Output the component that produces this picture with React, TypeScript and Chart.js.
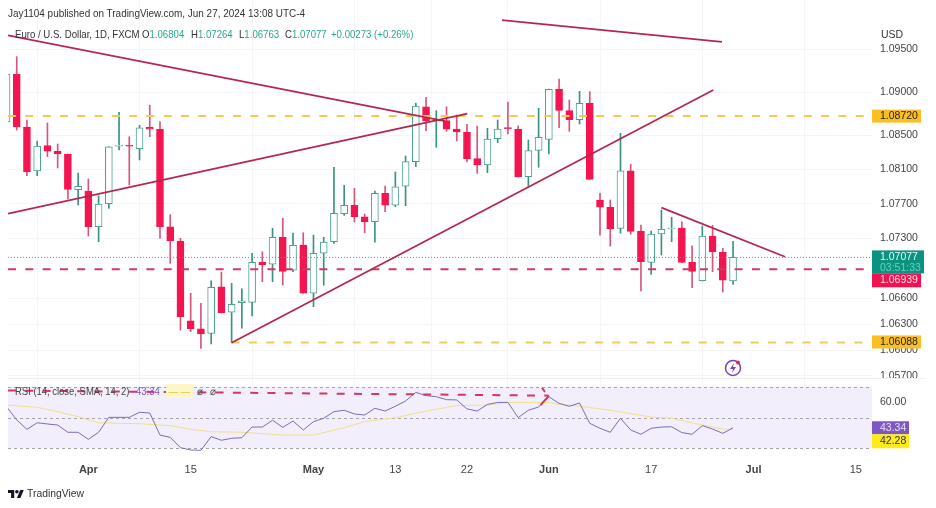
import React, { useEffect, useRef } from "react";
import { Chart, registerables } from "chart.js";

Chart.register(...registerables);

const opens = [1.08651,1.09206,1.08593,1.08082,1.08376,1.08311,1.08279,1.07864,1.07849,1.07434,1.07701,1.08369,1.08376,1.08341,1.0859,1.08567,1.07434,1.07268,1.06341,1.06248,1.06194,1.06736,1.06439,1.0655,1.06555,1.0702,1.06997,1.07311,1.0693,1.07221,1.0666,1.07125,1.0726,1.07585,1.07683,1.0755,1.07492,1.07822,1.07683,1.07904,1.0819,1.08829,1.08663,1.08667,1.0857,1.08535,1.08225,1.08151,1.08457,1.08582,1.08567,1.08015,1.08322,1.0845,1.09032,1.08783,1.08678,1.08869,1.07744,1.0766,1.07415,1.08085,1.0738,1.0702,1.07349,1.07407,1.07419,1.0702,1.06806,1.07326,1.0714,1.06804];
const highs = [1.09233,1.09411,1.08675,1.0843,1.0864,1.08396,1.08279,1.08058,1.07989,1.07794,1.08364,1.08764,1.0848,1.08613,1.08846,1.08655,1.07574,1.07299,1.0666,1.06543,1.06806,1.06907,1.06776,1.06713,1.07125,1.07143,1.07415,1.07532,1.07361,1.07364,1.07337,1.07311,1.08125,1.07915,1.0788,1.07582,1.07849,1.07907,1.0807,1.08256,1.08869,1.08939,1.08783,1.08829,1.08733,1.08625,1.08605,1.08578,1.08675,1.08884,1.08608,1.08442,1.08811,1.09035,1.09151,1.08907,1.09008,1.09004,1.07822,1.07744,1.0852,1.0816,1.07454,1.07384,1.07628,1.07543,1.07492,1.07213,1.07442,1.0745,1.07183,1.07264];
const lows = [1.08628,1.08558,1.08027,1.08027,1.08248,1.08117,1.07756,1.07686,1.07326,1.0726,1.07648,1.08326,1.07919,1.0821,1.0848,1.07299,1.07008,1.06233,1.06213,1.0602,1.0607,1.0643,1.06085,1.06253,1.06396,1.06794,1.06794,1.06756,1.06911,1.0666,1.06504,1.06753,1.07241,1.07566,1.07489,1.07364,1.07253,1.07608,1.07666,1.07678,1.08132,1.0855,1.08357,1.08543,1.0843,1.08186,1.08055,1.08062,1.08411,1.08512,1.08012,1.07899,1.08125,1.08279,1.08585,1.08543,1.08628,1.07985,1.07337,1.07209,1.07357,1.07346,1.06686,1.0688,1.07105,1.0726,1.07015,1.06725,1.06803,1.06911,1.06675,1.06763];
const closes = [1.0921,1.08593,1.0807,1.08372,1.08311,1.08279,1.07869,1.07904,1.07434,1.07698,1.08364,1.08376,1.08369,1.08585,1.08567,1.07434,1.07268,1.06387,1.06248,1.06186,1.06729,1.06434,1.06532,1.06573,1.0702,1.06992,1.07311,1.06915,1.07218,1.0666,1.07125,1.07256,1.0759,1.07683,1.0755,1.07489,1.07822,1.07683,1.07899,1.0819,1.08837,1.08663,1.0868,1.08567,1.08535,1.08225,1.08151,1.08454,1.0857,1.08575,1.08015,1.08318,1.08473,1.09032,1.08787,1.08678,1.08869,1.07985,1.0766,1.07411,1.08085,1.0738,1.07027,1.07349,1.07404,1.07417,1.0702,1.06915,1.07326,1.07143,1.06811,1.07077];

const rsiValues = [57.0,48.4,42.3,46.6,45.8,45.1,40.4,40.4,35.8,40.4,50.1,50.1,50.1,53.4,52.9,38.6,37.1,30.4,28.9,28.7,37.6,35.2,36.5,36.9,43.8,43.8,48.2,43.6,47.7,41.9,47.3,49.5,53.8,54.7,52.3,51.6,56.0,54.2,57.3,60.7,66.3,64.2,63.5,61.6,61.4,55.6,54.2,58.5,59.8,59.8,49.9,54.7,56.8,63.5,59.2,57.3,59.4,46.2,43.0,40.4,49.5,41.9,39.1,43.0,43.8,44.0,40.2,39.1,44.7,42.5,39.7,43.34];
const smaBars = [0,3,5,7,9,11,13,16,18,20,23,27,30,33,35,38,41,44,47,49,53,54,56,59,63,65,68,70,71];
const smaValues = [58.1,56.6,53.8,50.5,46.6,46.2,46.0,44.7,42.3,40.8,40.4,38.6,38.6,43.4,47.3,49.9,54.2,57.7,58.1,59.8,59.8,58.5,57.3,54.7,50.3,49.5,45.1,42.5,42.28];

const xTickBars = [8,18,30,38,45,53,63,73,83];
const xTickLabels = ["Apr","15","May","13","22","Jun","17","Jul","15"];
const monthLabels = ["Apr","May","Jun","Jul"];
const priceTicks = [1.095,1.09,1.085,1.081,1.077,1.073,1.066,1.063,1.06,1.057];
const rsiTicks = [60];

const levelUpper = 1.0872;
const levelLast = 1.07077;
const levelMiddle = 1.06939;
const levelLower = 1.06088;
const lowerLevelStart = 22;
const xMin = 0.147;
const xMax = 84.58;

const wedgeFalling = [{x:xMin,y:1.0966},{x:42.85,y:1.08663}];
const wedgeRising = [{x:xMin,y:1.07585},{x:45.03,y:1.08748}];
const supportLine = [{x:22,y:1.06085},{x:69.07,y:1.09023}];
const topLine = [{x:48.42,y:1.09837},{x:69.92,y:1.09582}];
const flagLine = [{x:64,y:1.07655},{x:76.08,y:1.07085}];
const rsiDashLine = [{x:xMin,y:67.5},{x:53,y:64.2}];
const rsiRiseLine = [{x:52.2,y:58.1},{x:53,y:64.0}];
const rsiTickLine = [{x:52.33,y:69.2},{x:52.62,y:66.6}];

const FONT = '"Liberation Sans", Arial, sans-serif';
const RED = "#f4144f";
const RED_WICK = "#d4577b";
const GREEN = "#4aa28f";
const GREEN_WICK = "#3a9380";
const TREND = "#b4284f";
const GOLD = "#efcb5e";
const LEVEL_RED = "#cd3a63";
const GRID = "#f5f5f7";

const isUp = (i: number) => closes[i] >= opens[i];
const hline = (v: number, from = xMin) => [{ x: from, y: v }, { x: xMax, y: v }];

const line = (data: any[], color: string, width: number, axis = "y", extra: any = {}) => ({
  type: "line",
  data,
  yAxisID: axis,
  borderColor: color,
  borderWidth: width,
  pointRadius: 0,
  tension: 0,
  order: 0,
  ...extra,
});

const noPadding = (s: any) => {
  s.paddingTop = 0;
  s.paddingBottom = 0;
  s.paddingLeft = 0;
  s.paddingRight = 0;
};

const panesPlugin = {
  id: "panes",
  beforeDatasetsDraw(chart: any) {
    const { ctx, chartArea, scales } = chart;
    const r = scales.yRsi;
    const top = r.getPixelForValue(70);
    const bottom = r.getPixelForValue(30);
    ctx.save();
    ctx.fillStyle = "#f2eefb";
    ctx.fillRect(chartArea.left, top, chartArea.right - chartArea.left, bottom - top);
    ctx.strokeStyle = "#efeff1";
    ctx.lineWidth = 1;
    ctx.beginPath();
    ctx.moveTo(chartArea.left, 378.5);
    ctx.lineTo(926, 378.5);
    ctx.stroke();
    ctx.strokeStyle = "#a3a3a8";
    ctx.setLineDash([3, 3]);
    for (const v of [70, 50, 30]) {
      const y = Math.round(r.getPixelForValue(v)) + 0.5;
      ctx.beginPath();
      ctx.moveTo(chartArea.left, y);
      ctx.lineTo(chartArea.right, y);
      ctx.stroke();
    }
    ctx.restore();
  },
};

const priceBox = (ctx: any, x0: number, x1: number, y0: number, y1: number, bg: string, text: string, fg: string, ty: number) => {
  ctx.fillStyle = bg;
  ctx.fillRect(x0, y0, x1 - x0, y1 - y0);
  ctx.fillStyle = fg;
  ctx.font = `10.5px ${FONT}`;
  ctx.textAlign = "left";
  ctx.textBaseline = "middle";
  ctx.fillText(text, x0 + 8, ty);
};

const labelsPlugin = {
  id: "priceLabels",
  afterDraw(chart: any) {
    const { ctx, scales } = chart;
    const p = scales.y;
    const r = scales.yRsi;
    const L = chart.chartArea.right;
    ctx.save();
    const yUpper = p.getPixelForValue(levelUpper);
    priceBox(ctx, L, L + 49, yUpper - 6.5, yUpper + 6.5, "#fbbf24", levelUpper.toFixed(5), "#222", yUpper);
    const yLast = p.getPixelForValue(levelLast);
    priceBox(ctx, L, L + 52, yLast - 7, yLast + 16, "#0c9281", levelLast.toFixed(5), "#e8fbf6", yLast);
    ctx.fillStyle = "#62d3bd";
    ctx.fillText("03:51:33", L + 8, yLast + 11);
    const yMid = p.getPixelForValue(levelMiddle);
    priceBox(ctx, L, L + 49, yMid + 4, yMid + 18, "#f2124f", levelMiddle.toFixed(5), "#ffe3ea", yMid + 11);
    const yLow = p.getPixelForValue(levelLower);
    priceBox(ctx, L, L + 49, yLow - 7, yLow + 6, "#fbbf24", levelLower.toFixed(5), "#222", yLow);
    const yR = r.getPixelForValue(rsiValues[rsiValues.length - 1]);
    priceBox(ctx, L, L + 37, yR - 6.5, yR + 6.5, "#7e57c2", "43.34", "#e6defa", yR);
    priceBox(ctx, L, L + 37, yR + 6.5, yR + 20.5, "#fdeb1a", "42.28", "#333", yR + 13.5);
    ctx.restore();
  },
};

const abs = (left: number, top: number, extra: React.CSSProperties = {}): React.CSSProperties => ({
  position: "absolute",
  left,
  top,
  whiteSpace: "nowrap",
  lineHeight: "14px",
  fontFamily: FONT,
  transform: "scaleX(0.9)",
  transformOrigin: "left center",
  ...extra,
});

const VAL = "#2aa78f";

export default function App() {
  const ref = useRef<HTMLCanvasElement>(null);

  useEffect(() => {
    const idx = opens.map((_, i) => i);
    const chart = new Chart(ref.current as HTMLCanvasElement, {
      type: "bar",
      data: {
        datasets: [
          line(flagLine, TREND, 1.8),
          line(topLine, TREND, 1.8),
          line(wedgeFalling, TREND, 1.8),
          line(wedgeRising, TREND, 1.8),
          line(supportLine, TREND, 1.8),
          line(rsiDashLine, LEVEL_RED, 2, "yRsi", { borderDash: [8, 9.3] }),
          line(rsiRiseLine, LEVEL_RED, 2, "yRsi"),
          line(rsiTickLine, LEVEL_RED, 2, "yRsi"),
          line(hline(levelUpper), GOLD, 2, "y", { borderDash: [8, 9.3], order: 1 }),
          line(hline(levelMiddle), LEVEL_RED, 2, "y", { borderDash: [8, 9.3], order: 1 }),
          line(hline(levelLower, lowerLevelStart), GOLD, 2, "y", { borderDash: [8, 9.3], order: 1 }),
          line(hline(levelLast), "#8a8a8a", 1, "y", { borderDash: [1, 2], order: 1 }),
          line(smaBars.map((x, i) => ({ x, y: smaValues[i] })), "#f3e08e", 1, "yRsi", { order: 1 }),
          line(idx.map((x) => ({ x, y: rsiValues[x] })), "#7a6fb0", 1, "yRsi"),
          {
            type: "bar",
            label: "bodies",
            yAxisID: "y",
            grouped: false,
            barThickness: 7,
            minBarLength: 1,
            order: 2,
            borderWidth: 1,
            borderSkipped: false,
            data: idx.map((i) => ({ x: i, y: [Math.min(opens[i], closes[i]), Math.max(opens[i], closes[i])] })),
            backgroundColor: idx.map((i) => (isUp(i) ? "#ffffff" : RED)),
            borderColor: idx.map((i) => (isUp(i) ? GREEN : RED)),
          },
          {
            type: "bar",
            label: "wicks",
            yAxisID: "y",
            grouped: false,
            barThickness: 1,
            order: 3,
            borderWidth: 0,
            data: idx.map((i) => ({ x: i, y: [lows[i], highs[i]] })),
            backgroundColor: idx.map((i) => (isUp(i) ? GREEN_WICK : RED_WICK)),
          },
        ] as any,
      },
      options: {
        animation: false,
        responsive: false,
        events: [],
        layout: { padding: { left: 8, right: 0, top: 0, bottom: 0 } },
        plugins: { legend: { display: false }, tooltip: { enabled: false } },
        scales: {
          x: {
            type: "linear",
            min: xMin,
            max: xMax,
            offset: false,
            border: { display: false },
            grid: { color: GRID, drawTicks: false },
            afterBuildTicks: (s: any) => {
              s.ticks = xTickBars.map((value) => ({ value }));
            },
            afterFit: (s: any) => {
              s.height = 56;
              noPadding(s);
            },
            ticks: {
              autoSkip: false,
              maxRotation: 0,
              padding: 11,
              color: "#444",
              font: (c: any) => ({
                family: FONT,
                size: 11,
                weight: monthLabels.includes(xTickLabels[xTickBars.indexOf(c.tick?.value)]) ? "bold" : "normal",
              }),
              callback: (v: any) => xTickLabels[xTickBars.indexOf(v)] ?? "",
            },
          },
          y: {
            type: "linear",
            position: "right",
            stack: "panes",
            stackWeight: 381,
            min: 1.0564,
            max: 1.1007,
            border: { display: false },
            grid: { color: GRID, drawTicks: false },
            afterBuildTicks: (s: any) => {
              s.ticks = priceTicks.map((value) => ({ value }));
            },
            afterFit: (s: any) => {
              s.width = 64;
              noPadding(s);
            },
            ticks: {
              padding: 8,
              color: "#444",
              font: { family: FONT, size: 10.5 },
              callback: (v: any) => Number(v).toFixed(5),
            },
          },
          yRsi: {
            type: "linear",
            position: "right",
            stack: "panes",
            stackWeight: 71,
            min: 27.6,
            max: 73.7,
            border: { display: false },
            grid: { display: false, drawTicks: false },
            afterBuildTicks: (s: any) => {
              s.ticks = rsiTicks.map((value) => ({ value }));
            },
            afterFit: (s: any) => {
              s.width = 64;
              noPadding(s);
            },
            ticks: {
              padding: 8,
              color: "#444",
              font: { family: FONT, size: 10.5 },
              callback: (v: any) => Number(v).toFixed(2),
            },
          },
        },
      },
      plugins: [panesPlugin, labelsPlugin],
    } as any);
    return () => chart.destroy();
  }, []);

  const head = { fontSize: 10.7, color: "#333" };
  const rsiFont = 10.5;
  return (
    <div style={{ position: "absolute", left: 0, top: 0, width: 936, height: 508, background: "#fff", overflow: "hidden" }}>
      <canvas ref={ref} width={936} height={508} style={{ display: "block" }} />
      <span style={abs(8, 5.5, { fontSize: 11.05, color: "#333" })}>Jay1104 published on TradingView.com, Jun 27, 2024 13:08 UTC-4</span>
      <span style={abs(14.5, 26.5, head)}>Euro / U.S. Dollar, 1D, FXCM</span>
      <span style={abs(142, 26.5, head)}>O<span style={{ color: VAL }}>1.06804</span></span>
      <span style={abs(191, 26.5, head)}>H<span style={{ color: VAL }}>1.07264</span></span>
      <span style={abs(238.5, 26.5, head)}>L<span style={{ color: VAL }}>1.06763</span></span>
      <span style={abs(285, 26.5, head)}>C<span style={{ color: VAL }}>1.07077</span></span>
      <span style={abs(331, 26.5, { ...head, color: VAL })}>+0.00273 (+0.26%)</span>
      <span style={abs(881, 27, { fontSize: 10.5, color: "#333", transform: "none" })}>USD</span>
      <span style={abs(14.5, 384, { fontSize: rsiFont, color: "#444" })}>RSI (14, close, SMA, 14, 2)</span>
      <span style={abs(136, 384, { fontSize: rsiFont, color: "#7e57c2" })}>43.34</span>
      <span style={abs(166, 384, { fontSize: rsiFont, color: "#e3c94a", background: "#fdf6c8", padding: "0 3px" })}>— —</span>
      <span style={abs(197, 384, { fontSize: rsiFont, color: "#444" })}>⌀</span>
      <span style={abs(210, 384, { fontSize: rsiFont, color: "#444" })}>⌀</span>
      <svg style={{ position: "absolute", left: 724, top: 359 }} width="18" height="18" viewBox="0 0 18 18">
        <circle cx="9" cy="9" r="7.5" fill="none" stroke="#7b3fb8" strokeWidth="1.5" />
        <path d="M10 4 L6 10 H9 L8 14 L12 8 H9 Z" fill="#7b3fb8" />
        <circle cx="14" cy="3.5" r="2" fill="#e0245e" />
      </svg>
      <svg style={{ position: "absolute", left: 8, top: 488 }} width="16" height="10" viewBox="0 0 36 22">
        <path d="M14 22H7V11H0V4h14v18zM28 22h-8l7.5-18h8L28 22z" fill="#131722" />
        <circle cx="20" cy="8" r="4" fill="#131722" />
      </svg>
      <span style={abs(27, 486, { fontSize: 11.5, color: "#333" })}>TradingView</span>
    </div>
  );
}
